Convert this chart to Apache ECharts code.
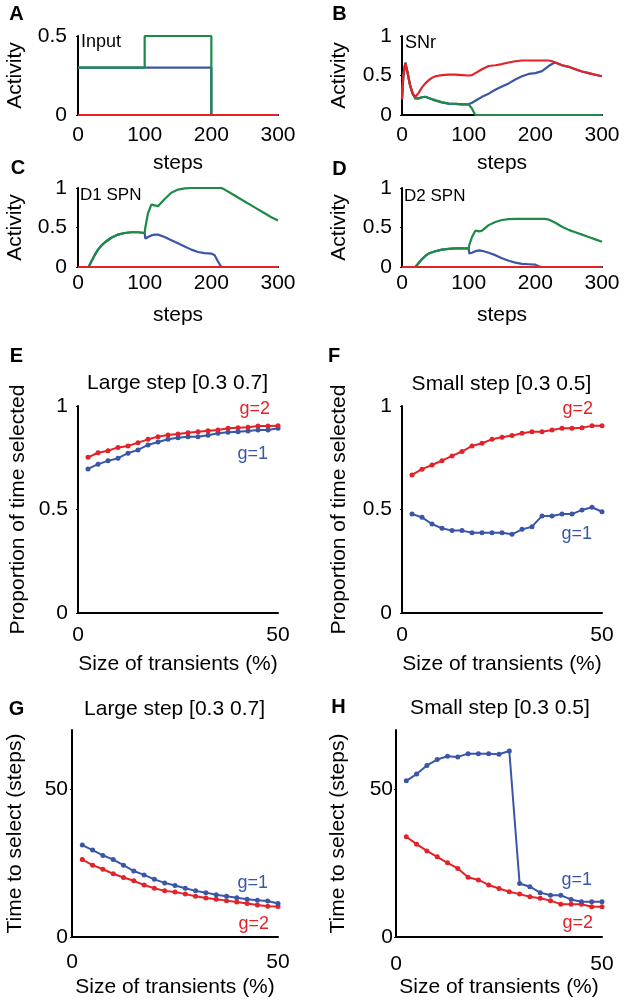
<!DOCTYPE html>
<html><head><meta charset="utf-8">
<script src="https://cdn.jsdelivr.net/npm/echarts@6/dist/echarts.min.js"></script>
<style>html,body{margin:0;padding:0;background:#fff}#c{width:630px;height:1001px}</style>
</head><body><div id="c"></div>
<script>
// ---------- DATA ----------
// Panel A: Input
const inputGreenX = [0, 100, 100, 200, 200, 300];
const inputGreenY = [0.3, 0.3, 0.5, 0.5, 0, 0];
const inputBlueX = [0, 200, 200, 300];
const inputBlueY = [0.3, 0.3, 0, 0];
const inputRedX = [0, 300];
const inputRedY = [0, 0];

// Panel B: SNr
const stepsB = [0,2,5,8,12,16,20,25,30,35,40,45,50,60,70,80,90,100,105,110,120,130,140,150,160,170,180,190,200,210,220,225,230,240,250,260,270,280,290,300];
const snrRed = [0.2,0.5,0.66,0.55,0.38,0.27,0.23,0.28,0.35,0.40,0.44,0.47,0.49,0.505,0.51,0.51,0.505,0.50,0.505,0.53,0.58,0.62,0.63,0.645,0.665,0.68,0.69,0.69,0.69,0.69,0.69,0.68,0.665,0.63,0.61,0.58,0.55,0.53,0.51,0.49];
const snrGreen = [0.2,0.5,0.66,0.55,0.38,0.27,0.21,0.21,0.225,0.23,0.215,0.2,0.185,0.16,0.145,0.14,0.135,0.135,0.08,0,0,0,0,0,0,0,0,0,0,0,0,0,0,0,0,0,0,0,0,0];
const snrBlue = [0.2,0.5,0.66,0.55,0.38,0.27,0.21,0.21,0.225,0.23,0.215,0.2,0.185,0.16,0.145,0.14,0.135,0.135,0.155,0.18,0.23,0.27,0.32,0.36,0.40,0.45,0.49,0.52,0.53,0.555,0.62,0.645,0.665,0.63,0.61,0.58,0.55,0.53,0.51,0.49];

// Panel C: D1 SPN
const stepsC = [0,10,16,20,25,30,35,40,50,60,70,80,90,100,101,105,110,112,115,120,130,140,150,160,170,180,190,200,205,210,215,220,230,240,250,260,270,280,290,300];
const d1Green = [0,0,0,0.07,0.15,0.22,0.27,0.31,0.37,0.41,0.43,0.44,0.44,0.43,0.5,0.68,0.79,0.81,0.78,0.77,0.86,0.94,0.98,0.995,1.0,1.0,1.0,1.0,1.0,1.0,1.0,0.98,0.93,0.88,0.83,0.78,0.73,0.68,0.63,0.59];
const d1Blue = [0,0,0,0.07,0.15,0.22,0.27,0.31,0.37,0.41,0.43,0.44,0.44,0.43,0.36,0.38,0.40,0.41,0.41,0.41,0.38,0.34,0.30,0.26,0.22,0.19,0.175,0.17,0.15,0.07,0,0,0,0,0,0,0,0,0,0];
const d1Red = [0,0,0,0,0,0,0,0,0,0,0,0,0,0,0,0,0,0,0,0,0,0,0,0,0,0,0,0,0,0,0,0,0,0,0,0,0,0,0,0];

// Panel D: D2 SPN
const stepsD = [0,10,20,22,25,30,35,40,50,60,70,80,90,100,101,105,110,113,116,120,130,140,150,160,170,180,190,200,205,210,215,220,230,240,250,260,270,280,290,300];
const d2Green = [0,0,0,0.01,0.05,0.1,0.14,0.17,0.2,0.22,0.23,0.235,0.235,0.235,0.28,0.38,0.46,0.48,0.45,0.46,0.53,0.57,0.595,0.605,0.61,0.61,0.61,0.61,0.61,0.61,0.61,0.6,0.56,0.51,0.47,0.44,0.41,0.38,0.35,0.32];
const d2Blue = [0,0,0,0.01,0.05,0.1,0.14,0.17,0.2,0.22,0.23,0.235,0.235,0.235,0.17,0.18,0.2,0.205,0.21,0.205,0.18,0.15,0.11,0.08,0.055,0.04,0.035,0.03,0.01,0,0,0,0,0,0,0,0,0,0,0];
const d2Red = [0,0,0,0,0,0,0,0,0,0,0,0,0,0,0,0,0,0,0,0,0,0,0,0,0,0,0,0,0,0,0,0,0,0,0,0,0,0,0,0];

// Panels E-H: size of transients (%)
const transients = [2.5,5,7.5,10,12.5,15,17.5,20,22.5,25,27.5,30,32.5,35,37.5,40,42.5,45,47.5,50];
const propLargeG2 = [0.752,0.774,0.784,0.80,0.807,0.823,0.839,0.852,0.86,0.865,0.871,0.876,0.881,0.884,0.892,0.895,0.897,0.903,0.903,0.905];
const propLargeG1 = [0.696,0.719,0.735,0.748,0.772,0.788,0.812,0.826,0.839,0.847,0.852,0.852,0.859,0.868,0.873,0.876,0.879,0.884,0.884,0.892];
const propSmallG2 = [0.667,0.695,0.715,0.736,0.759,0.78,0.807,0.82,0.839,0.849,0.857,0.868,0.876,0.876,0.884,0.892,0.892,0.895,0.904,0.904];
const propSmallG1 = [0.478,0.462,0.43,0.409,0.398,0.398,0.388,0.388,0.388,0.388,0.38,0.404,0.417,0.469,0.469,0.478,0.478,0.498,0.511,0.489];
const timeLargeG1 = [31.1,29.4,27.6,26.2,24.3,22.3,21.0,19.5,18.3,17.4,16.5,15.6,15.0,14.3,13.8,13.3,12.8,12.4,12.2,11.3];
const timeLargeG2 = [26.2,24.3,22.9,21.4,20.1,19.0,17.6,16.5,15.6,15.2,14.5,13.8,13.2,12.8,12.3,11.8,11.3,10.8,10.4,10.3];
const timeSmallG1 = [52.8,55.1,58.0,60.0,61.1,60.9,62.0,62.0,62.0,61.8,62.9,18.1,17.0,15.0,14.1,14.1,12.7,11.9,11.9,11.9];
const timeSmallG2 = [33.9,31.4,29.1,27.1,25.1,23.2,20.2,19.3,17.6,16.4,15.3,14.5,13.6,13.1,12.3,11.1,11.1,11.1,10.2,10.2];

// Tick values
const stepTicks = [0, 100, 200, 300];
const activityTicks = [0, 0.5, 1];
const inputTicks = [0, 0.5];
const transientTicks = [0, 50];
const propTicks = [0, 0.5, 1];
const timeTicks = [0, 50];

// ---------- STYLE ----------
const RED = '#e3222a', BLUE = '#3a56a6', GREEN = '#1d8a45';
const FONT = 'Liberation Sans, Arial, Helvetica, sans-serif';
const zip = (xs, ys) => xs.map((x, i) => [x, ys[i]]);

const grids = [
  {left: 78, top: 36, width: 200, height: 79},   // A
  {left: 402, top: 36, width: 200, height: 79},  // B
  {left: 78, top: 188, width: 200, height: 79},  // C
  {left: 402, top: 188, width: 200, height: 79}, // D
  {left: 78, top: 406, width: 200, height: 207}, // E
  {left: 402, top: 406, width: 200, height: 207},// F
  {left: 72, top: 730, width: 206, height: 207}, // G
  {left: 396, top: 730, width: 206, height: 207} // H
];

const axisLine = {show: true, onZero: false, lineStyle: {color: '#000', width: 2}};
function xAx(i, max, interval, ticks, name, labelMargin, nameGap) {
  return {type: 'value', gridIndex: i, min: 0, max: max, interval: interval,
    axisLine: axisLine, axisTick: {show: false}, splitLine: {show: false},
    axisLabel: {color: '#000', fontSize: 21, fontFamily: FONT, margin: labelMargin, customValues: ticks},
    name: name, nameLocation: 'middle', nameGap: nameGap,
    nameTextStyle: {color: '#000', fontSize: 21, fontFamily: FONT}};
}
function yAx(i, max, interval, ticks, name, labelMargin, nameGap) {
  return {type: 'value', gridIndex: i, min: 0, max: max, interval: interval,
    axisLine: axisLine, axisTick: {show: true, length: 2, customValues: ticks, lineStyle: {color: '#000', width: 1}},
    splitLine: {show: false},
    axisLabel: {color: '#000', fontSize: 21, fontFamily: FONT, margin: labelMargin, customValues: ticks},
    name: name, nameLocation: 'middle', nameGap: nameGap,
    nameTextStyle: {color: '#000', fontSize: 21, fontFamily: FONT}};
}

const xAxes = [
  xAx(0, 300, 100, stepTicks, 'steps', 10, 38),
  xAx(1, 300, 100, stepTicks, 'steps', 10, 38),
  xAx(2, 300, 100, stepTicks, 'steps', 6, 38),
  xAx(3, 300, 100, stepTicks, 'steps', 6, 38),
  xAx(4, 50, 50, transientTicks, 'Size of transients (%)', 12, 41),
  xAx(5, 50, 50, transientTicks, 'Size of transients (%)', 12, 41),
  xAx(6, 50, 50, transientTicks, 'Size of transients (%)', 15, 40),
  xAx(7, 50, 50, transientTicks, 'Size of transients (%)', 17, 40)
];
const yAxes = [
  yAx(0, 0.5, 0.5, inputTicks, 'Activity', 11, 52),
  yAx(1, 1, 0.5, activityTicks, 'Activity', 10, 52),
  yAx(2, 1, 0.5, activityTicks, 'Activity', 11, 52),
  yAx(3, 1, 0.5, activityTicks, 'Activity', 10, 52),
  yAx(4, 1, 0.5, propTicks, 'Proportion of time selected', 10, 49),
  yAx(5, 1, 0.5, propTicks, 'Proportion of time selected', 10, 52),
  yAx(6, 70, 50, timeTicks, 'Time to select (steps)', 4, 46),
  yAx(7, 70, 50, timeTicks, 'Time to select (steps)', 3, 47)
];

function ln(i, data, color, z) {
  return {type: 'line', xAxisIndex: i, yAxisIndex: i, data: data, showSymbol: false, symbol: 'none',
    lineStyle: {color: color, width: 2.2}, itemStyle: {color: color}, z: z, animation: false, clip: false};
}
function dots(i, xs, ys, color, z) {
  return {type: 'line', xAxisIndex: i, yAxisIndex: i, data: zip(xs, ys), symbol: 'circle', symbolSize: 5,
    showSymbol: true, lineStyle: {color: color, width: 2}, itemStyle: {color: color}, z: z, animation: false};
}

const series = [
  ln(0, zip(inputBlueX, inputBlueY), BLUE, 2),
  ln(0, zip(inputGreenX, inputGreenY), GREEN, 3),
  ln(0, zip(inputRedX, inputRedY), RED, 4),
  ln(1, zip(stepsB, snrBlue), BLUE, 2),
  ln(1, zip(stepsB, snrGreen), GREEN, 3),
  ln(1, zip(stepsB, snrRed), RED, 4),
  ln(2, zip(stepsC, d1Blue), BLUE, 2),
  ln(2, zip(stepsC, d1Green), GREEN, 3),
  ln(2, zip(stepsC, d1Red), RED, 4),
  ln(3, zip(stepsD, d2Blue), BLUE, 2),
  ln(3, zip(stepsD, d2Green), GREEN, 3),
  ln(3, zip(stepsD, d2Red), RED, 4),
  dots(4, transients, propLargeG1, BLUE, 2),
  dots(4, transients, propLargeG2, RED, 3),
  dots(5, transients, propSmallG1, BLUE, 2),
  dots(5, transients, propSmallG2, RED, 3),
  dots(6, transients, timeLargeG2, RED, 2),
  dots(6, transients, timeLargeG1, BLUE, 3),
  dots(7, transients, timeSmallG2, RED, 2),
  dots(7, transients, timeSmallG1, BLUE, 3)
];

function txt(s, x, y, opts) {
  opts = opts || {};
  const align = opts.align || 'left';
  return {type: 'text', x: x, y: y, z: 100, style: {
    text: s, fill: opts.color || '#000',
    font: (opts.bold ? 'bold ' : '') + (opts.size || 21) + 'px ' + FONT,
    textAlign: align, textVerticalAlign: 'middle', align: align, verticalAlign: 'middle'}};
}
const graphics = [
  txt('A', 16.5, 14, {bold: true, size: 20, align: 'center'}),
  txt('B', 339.5, 14, {bold: true, size: 20, align: 'center'}),
  txt('C', 18, 168, {bold: true, size: 20, align: 'center'}),
  txt('D', 339.5, 169, {bold: true, size: 20, align: 'center'}),
  txt('E', 16.5, 356, {bold: true, size: 20, align: 'center'}),
  txt('F', 334, 356, {bold: true, size: 20, align: 'center'}),
  txt('G', 16.5, 709, {bold: true, size: 20, align: 'center'}),
  txt('H', 338.5, 707, {bold: true, size: 20, align: 'center'}),
  txt('Input', 81, 42, {size: 18}),
  txt('SNr', 405, 43.5, {size: 18}),
  txt('D1 SPN', 80, 195, {size: 17}),
  txt('D2 SPN', 404, 196.5, {size: 17}),
  txt('Large step [0.3 0.7]', 177.5, 383, {align: 'center'}),
  txt('Small step [0.3 0.5]', 501.5, 384, {align: 'center'}),
  txt('Large step [0.3 0.7]', 174.5, 709, {align: 'center'}),
  txt('Small step [0.3 0.5]', 500, 708, {align: 'center'}),
  txt('g=2', 270, 409, {size: 18, color: RED, align: 'right'}),
  txt('g=1', 268, 454, {size: 18, color: BLUE, align: 'right'}),
  txt('g=2', 593, 409, {size: 18, color: RED, align: 'right'}),
  txt('g=1', 592, 534, {size: 18, color: BLUE, align: 'right'}),
  txt('g=1', 268, 883, {size: 18, color: BLUE, align: 'right'}),
  txt('g=2', 269, 924, {size: 18, color: RED, align: 'right'}),
  txt('g=1', 592, 880, {size: 18, color: BLUE, align: 'right'}),
  txt('g=2', 593, 923, {size: 18, color: RED, align: 'right'})
];

const chart = echarts.init(document.getElementById('c'), null, {renderer: 'canvas'});
chart.setOption({
  animation: false,
  backgroundColor: '#fff',
  grid: grids,
  xAxis: xAxes,
  yAxis: yAxes,
  series: series,
  graphic: graphics
});
</script></body></html>
